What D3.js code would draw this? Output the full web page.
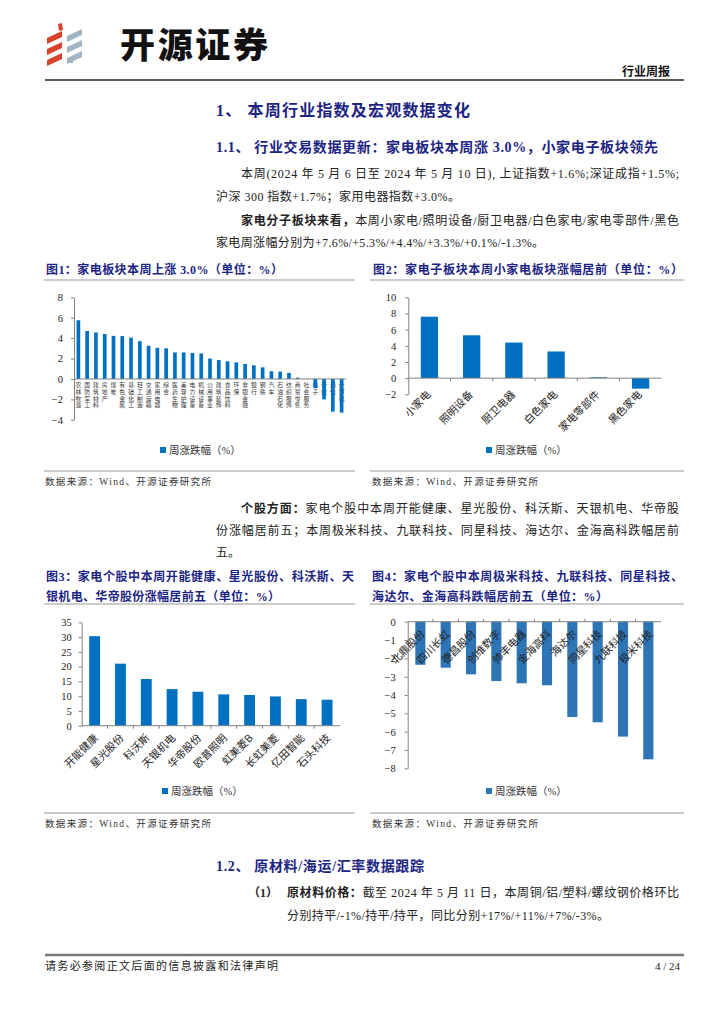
<!DOCTYPE html>
<html>
<head>
<meta charset="utf-8">
<style>
  body { margin: 0; background: #fff; }
  svg { display: block; font-family: "Liberation Serif", "Noto Sans CJK SC", serif; }
  .axis path, .axis line { stroke: #808080; }
  .axis text { font-family: "Liberation Serif", serif; fill: #222; }
  .vlab { writing-mode: vertical-rl; }
</style>
</head>
<body>
<script src="https://d3js.org/d3.v7.min.js"></script>
<script>
// ---- data ----
var sectors = ["农林牧渔","国防军工","建筑材料","房地产","煤炭","有色金属","基础化工","轻工制造","交通运输","家用电器",
               "综合","医药生物","美容护理","电力设备","机械设备","公用事业","建筑装饰","食品饮料","环保","非银金融",
               "银行","钢铁","汽车","石油石化","纺织服饰","商贸零售","社会服务","电子","传媒","通信","计算机"];
var sectorChg = [5.75,4.7,4.55,4.4,4.22,4.2,4.05,3.7,3.25,3.05,
                 3.0,2.6,2.6,2.55,2.5,2.0,1.85,1.73,1.63,1.47,
                 1.34,1.14,0.75,0.72,0.59,0.13,0.02,-0.9,-2.0,-3.2,-3.3];
var subSectors = ["小家电","照明设备","厨卫电器","白色家电","家电零部件","黑色家电"];
var subChg = [7.6,5.3,4.4,3.3,0.1,-1.3];
var gainers = ["开能健康","星光股份","科沃斯","天银机电","华帝股份","欧普照明","虹美菱B","长虹美菱","亿田智能","石头科技"];
var gainerChg = [30.3,21.0,15.8,12.4,11.5,10.6,10.4,9.9,9.0,8.8];
var losers = ["北鼎股份","四川长虹","德昌股份","创维数字","帅丰电器","金海高科","海达尔","同星科技","九联科技","极米科技"];
var loserChg = [-2.35,-2.51,-2.87,-3.24,-3.36,-3.47,-5.2,-5.49,-6.27,-7.51];
var ticks1 = [-4,-2,0,2,4,6,8];
var ticks2 = [-2,0,2,4,6,8,10];
var ticks3 = [0,5,10,15,20,25,30,35];
var ticks4 = [-8,-7,-6,-5,-4,-3,-2,-1,0];

var navy = "#1c2583";
var svg = d3.select("body").append("svg").attr("width", 724).attr("height", 1024);

// text helper: parts = [[string, bold], ...]
function txt(x, y, parts, o) {
  o = o || {};
  var t = svg.append("text").attr("x", x).attr("y", y)
    .attr("font-size", o.size || 12).attr("fill", o.fill || "#222");
  if (o.anchor) t.attr("text-anchor", o.anchor);
  if (o.len) t.attr("textLength", o.len).attr("lengthAdjust", "spacing");
  if (o.bold) t.attr("font-weight", "bold");
  if (typeof parts === "string") parts = [[parts, false]];
  parts.forEach(function(p) {
    var s = t.append("tspan").text(p[0]);
    if (p[1]) s.attr("font-weight", "bold");
  });
  return t;
}
function hline(x1, x2, y, w, c) {
  svg.append("line").attr("x1", x1).attr("x2", x2).attr("y1", y).attr("y2", y)
    .attr("stroke", c || "#888").attr("stroke-width", w || 1);
}

// ---- header ----
var logo = svg.append("g");
[0, 11, 22].forEach(function(dy) {
  logo.append("path").attr("fill", "#d8432c")
    .attr("d", "M47," + (38 + dy) + " l15,-7 l0,6 l-15,7 z");
  logo.append("path").attr("fill", "#a3b5c5")
    .attr("d", "M67," + (36 + dy) + " l15,-7 l0,6 l-15,7 z");
});
logo.append("path").attr("fill", "#d8432c").attr("d", "M58,24 l4,-1 l1,7 l-4,1 z");
logo.append("path").attr("fill", "#a3b5c5").attr("d", "M69,58 l4,0 l0,5 l-3,0 z");
svg.append("text").attr("x", 120).attr("y", 58).attr("font-size", 35).attr("font-weight", 900)
  .attr("font-family", "Noto Sans CJK SC").attr("fill", "#111").attr("textLength", 148)
  .text("开源证券");
txt(670, 76, "行业周报", {size: 12, bold: true, anchor: "end", fill: "#111"});
hline(45, 684, 80, 1.5, "#222");

// ---- headings & text ----
txt(216, 116, "1、 本周行业指数及宏观数据变化", {size: 16, bold: true, fill: navy, len: 254});
txt(216, 152, "1.1、 行业交易数据更新：家电板块本周涨 3.0%，小家电子板块领先", {size: 14, bold: true, fill: navy, len: 442});
txt(241, 178, "本周(2024 年 5 月 6 日至 2024 年 5 月 10 日), 上证指数+1.6%;深证成指+1.5%;", {len: 438});
txt(216, 201, "沪深 300 指数+1.7%；家用电器指数+3.0%。", {len: 244});
txt(241, 225, [["家电分子板块来看，", true], ["本周小家电/照明设备/厨卫电器/白色家电/家电零部件/黑色", false]], {len: 438});
txt(216, 247, "家电周涨幅分别为+7.6%/+5.3%/+4.4%/+3.3%/+0.1%/-1.3%。", {len: 328});

// figure titles
txt(46, 274, "图1：家电板块本周上涨 3.0%（单位：%）", {size: 12, bold: true, fill: navy, len: 237});
txt(373, 274, "图2：家电子板块本周小家电板块涨幅居前（单位：%）", {size: 12, bold: true, fill: navy, len: 310});
hline(44, 355, 280, 1, "#999");
hline(370, 684, 280, 1, "#999");

hline(44, 355, 471, 1, "#999");
hline(370, 684, 471, 1, "#999");
txt(45, 485, "数据来源：Wind、开源证券研究所", {size: 9.5, fill: "#333", len: 166});
txt(372, 485, "数据来源：Wind、开源证券研究所", {size: 9.5, fill: "#333", len: 166});

txt(241, 513, [["个股方面：", true], ["家电个股中本周开能健康、星光股份、科沃斯、天银机电、华帝股", false]], {len: 438});
txt(216, 535, "份涨幅居前五；本周极米科技、九联科技、同星科技、海达尔、金海高科跌幅居前", {len: 463});
txt(216, 557, "五。");

txt(46, 581, "图3：家电个股中本周开能健康、星光股份、科沃斯、天", {size: 12, bold: true, fill: navy, len: 308});
txt(46, 601, "银机电、华帝股份涨幅居前五（单位：%）", {size: 12, bold: true, fill: navy, len: 234});
txt(372, 581, "图4：家电个股中本周极米科技、九联科技、同星科技、", {size: 12, bold: true, fill: navy, len: 311});
txt(372, 601, "海达尔、金海高科跌幅居前五（单位：%）", {size: 12, bold: true, fill: navy, len: 236});
hline(44, 355, 604, 1, "#999");
hline(370, 684, 604, 1, "#999");

hline(44, 355, 813, 1, "#999");
hline(370, 684, 813, 1, "#999");
txt(45, 827, "数据来源：Wind、开源证券研究所", {size: 9.5, fill: "#333", len: 166});
txt(372, 827, "数据来源：Wind、开源证券研究所", {size: 9.5, fill: "#333", len: 166});

txt(216, 871, "1.2、 原材料/海运/汇率数据跟踪", {size: 14, bold: true, fill: navy, len: 208});
txt(248, 897, "（1）", {bold: true});
txt(287, 897, [["原材料价格：", true], ["截至 2024 年 5 月 11 日，本周铜/铝/塑料/螺纹钢价格环比", false]], {len: 392});
txt(287, 920, "分别持平/-1%/持平/持平，同比分别+17%/+11%/+7%/-3%。", {len: 322});

hline(45, 684, 955, 2.5, "#777");
txt(45, 970, "请务必参阅正文后面的信息披露和法律声明", {size: 11, fill: "#222", len: 233});
txt(680, 970, "4 / 24", {size: 11, fill: "#222", anchor: "end"});

// ---- bar chart helper ----
function barChart(c) {
  var g = svg.append("g");
  var x = d3.scaleBand().domain(c.cats).range(c.xr).paddingInner(c.pad).paddingOuter(c.pad / 2);
  var y = d3.scaleLinear().domain(c.yd).range(c.yr);
  var y0 = y(0);

  if (!c.rot) {
    // small stacked labels, drawn under the bars
    g.selectAll(".vlab").data(c.cats).enter().append("text")
      .attr("class", "vlab")
      .attr("font-family", "Noto Sans CJK SC").attr("font-size", 5.8)
      .attr("letter-spacing", 0.9).attr("fill", "#333")
      .attr("x", function(d) { return x(d) + x.bandwidth() / 2; })
      .attr("y", c.vy)
      .text(function(d) { return d; });
  }

  g.selectAll(".bar").data(c.vals).enter().append("rect")
    .attr("class", "bar")
    .attr("x", function(d, i) { return x(c.cats[i]); })
    .attr("width", x.bandwidth())
    .attr("y", function(d) { return Math.min(y(d), y0); })
    .attr("height", function(d) { return Math.abs(y(d) - y0); })
    .attr("fill", c.color);

  g.append("g").attr("class", "axis").attr("transform", "translate(" + c.xr[0] + ",0)")
    .call(d3.axisLeft(y).tickValues(c.ticks).tickSize(3).tickPadding(c.tp || 8).tickSizeOuter(0))
    .call(function(a) { a.selectAll("text").attr("font-size", 10.5); });

  g.append("line").attr("x1", c.xr[0]).attr("x2", c.xr[1]).attr("y1", y0).attr("y2", y0)
    .attr("stroke", "#808080");
  if (c.tickDir) {
    c.cats.forEach(function(k, i) {
      if (i === 0) return;
      var bx = x(k) - x.step() * c.pad / 2;
      g.append("line").attr("x1", bx).attr("x2", bx).attr("y1", y0).attr("y2", y0 + 3 * c.tickDir)
        .attr("stroke", "#808080");
    });
  }

  if (c.rot) {
    g.selectAll(".lab").data(c.cats).enter().append("text")
      .attr("font-family", "Noto Sans CJK SC").attr("font-size", 10.5).attr("fill", "#222")
      .attr("text-anchor", "end")
      .attr("transform", function(d) {
        return "translate(" + (x(d) + x.bandwidth() / 2 + c.rot[0]) + "," + (y0 + c.rot[1]) + ") rotate(-45)";
      })
      .text(function(d) { return d; });
  }

  // legend
  g.append("rect").attr("x", c.leg[0]).attr("y", c.leg[1] - 3).attr("width", 6).attr("height", 6).attr("fill", c.color);
  g.append("text").attr("x", c.leg[0] + 9).attr("y", c.leg[1] + 4).attr("font-size", 10.5)
    .attr("fill", "#333").text("周涨跌幅（%）");
}

barChart({cats: sectors, vals: sectorChg, xr: [74, 346], pad: 0.58, yd: [-4, 8], yr: [419.8, 297.3],
  ticks: ticks1, color: "#0070c0", vy: 382, leg: [160, 450], tp: 8});
barChart({cats: subSectors, vals: subChg, xr: [408.3, 661.7], pad: 0.59, yd: [-2, 10], yr: [394.3, 297.3],
  ticks: ticks2, color: "#0070c0", rot: [2, 17], tickDir: 1, leg: [486, 450], tp: 9});
barChart({cats: gainers, vals: gainerChg, xr: [81.7, 340], pad: 0.58, yd: [0, 35], yr: [725.7, 622.3],
  ticks: ticks3, color: "#0070c0", rot: [4, 13], tickDir: 1, leg: [162, 791], tp: 7});
barChart({cats: losers, vals: loserChg, xr: [407.7, 661], pad: 0.6, yd: [-8, 0], yr: [768.3, 621.7],
  ticks: ticks4, color: "#2e75b6", rot: [5, 13], tickDir: -1, leg: [486, 791], tp: 9});
</script>
</body>
</html>
